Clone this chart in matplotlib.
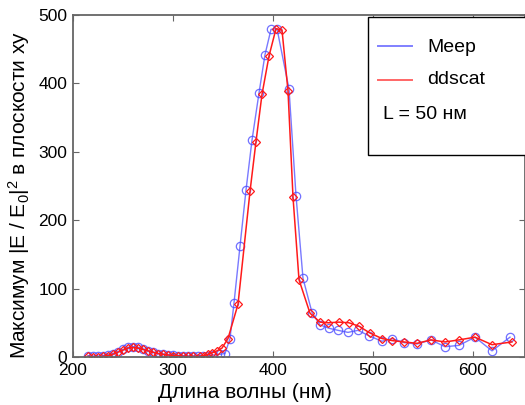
import matplotlib
matplotlib.use("Agg")
import matplotlib.pyplot as plt
from matplotlib.patches import Rectangle
from matplotlib.lines import Line2D

plt.rcParams['font.family'] = ['Liberation Sans', 'DejaVu Sans']
plt.rcParams['mathtext.default'] = 'regular'

# Meep (blue circles)
meep_wl = [215, 220, 225, 230, 235, 240, 245, 250, 255, 260, 265, 270, 275, 280,
           285, 290, 295, 300, 305, 310, 315, 320, 325, 330, 335, 340, 347, 352,
           357, 361, 367, 373, 379, 386, 392, 398, 404, 416, 423, 430, 439, 447,
           456, 465, 475, 485, 496, 509, 519, 531, 544, 558, 572, 586, 602, 619, 637]
meep_val = [2, 1, 1, 2, 3, 5, 8, 11, 14, 15, 14, 12, 9, 7,
            5, 4, 3, 3, 2, 2, 1, 1, 2, 2, 2, 3, 4, 5,
            27, 79, 162, 244, 317, 386, 442, 479, 480, 392, 236, 115, 65, 47,
            42, 39, 36, 39, 31, 23, 27, 21, 19, 25, 15, 17, 29, 9, 29]

# ddscat (red diamonds)
dd_wl = [215, 220, 225, 230, 235, 240, 245, 250, 255, 260, 265, 270, 275, 280,
         285, 290, 295, 300, 305, 310, 315, 320, 327, 331, 335, 339, 344, 349,
         355, 365, 377, 383, 389, 396, 403, 409, 415, 420, 426, 437, 447, 455,
         466, 476, 486, 497, 509, 519, 531, 544, 558, 572, 586, 602, 619, 639]
dd_val = [1, 0, 0, 1, 2, 4, 7, 10, 13, 14, 13, 11, 9, 7,
          5, 4, 3, 2, 2, 1, 1, 1, 1, 2, 4, 6, 9, 13,
          27, 77, 242, 315, 384, 440, 480, 478, 389, 234, 113, 64, 51, 50,
          51, 50, 45, 35, 27, 24, 22, 20, 25, 22, 25, 29, 18, 22]

blue = '#4d4dff'
red = '#ff1a1a'

fig = plt.figure(figsize=(5.25, 4.05), dpi=100)
ax = fig.add_axes([73/525, 48/405, 452/525, 342/405])

ax.plot(meep_wl, meep_val, '-', color=blue, lw=1.0, alpha=0.75)
ax.plot(meep_wl, meep_val, 'o', mfc='none', mec=blue, ms=6, mew=0.9, alpha=0.8)
ax.plot(dd_wl, dd_val, '-', color=red, lw=1.1)
ax.plot(dd_wl, dd_val, 'D', mfc='none', mec=red, ms=4.2, mew=0.9)

ax.set_xlim(200, 652)
ax.set_ylim(0, 500)
ax.set_xticks([200, 300, 400, 500, 600])
ax.set_yticks([0, 100, 200, 300, 400, 500])
ax.tick_params(direction='in', top=True, right=True, length=4, width=0.8,
               color='#666666', labelsize=12.5, pad=4)
for s in ax.spines.values():
    s.set_color('#666666')
    s.set_linewidth(1.3)

H = 405.0
W = 525.0
fig.text(245/W, 1 - 393/H, 'Длина волны (нм)', fontsize=15, ha='center', va='center')
fig.text(19/W, 1 - 195/H, 'Максимум |E / E$_0$|$^2$ в плоскости xy',
         rotation=90, fontsize=15, ha='center', va='center')

# legend box
fig.patches.append(Rectangle((368/W, 1 - 155/H), (530-368)/W, (155-17)/H,
                             transform=fig.transFigure, facecolor='white',
                             edgecolor='black', lw=1.0, zorder=10))
fig.lines.append(Line2D([378/W, 412/W], [1 - 46/H, 1 - 46/H], transform=fig.transFigure,
                        color='#8080ff', lw=1.4, zorder=11))
fig.lines.append(Line2D([378/W, 412/W], [1 - 80/H, 1 - 80/H], transform=fig.transFigure,
                        color='#ff6666', lw=1.4, zorder=11))
fig.text(427/W, 1 - 47/H, 'Meep', fontsize=14, va='center', ha='left', zorder=12)
fig.text(427/W, 1 - 80/H, 'ddscat', fontsize=14, va='center', ha='left', zorder=12)
fig.text(383/W, 1 - 115/H, 'L = 50 нм', fontsize=14, va='center', ha='left', zorder=12)

fig.savefig('out.png', dpi=100)
